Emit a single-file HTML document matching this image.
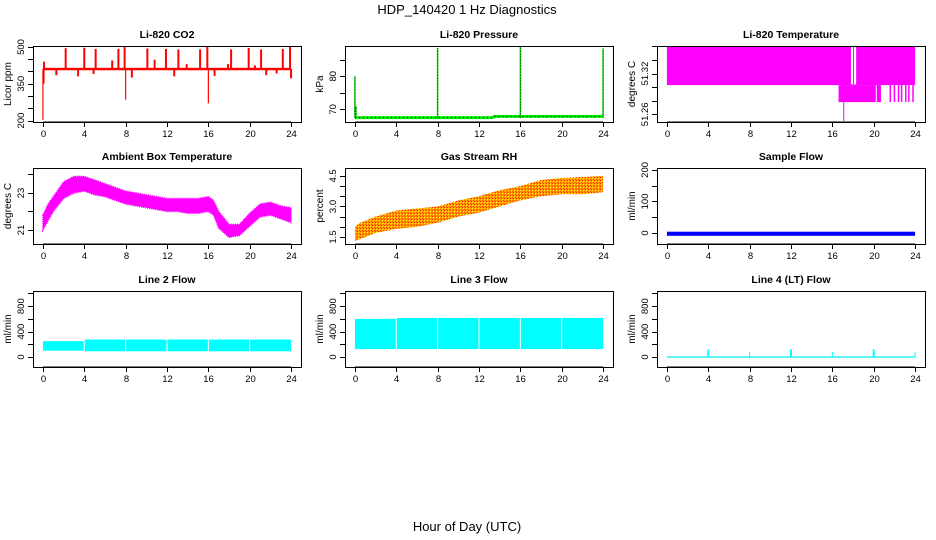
<!DOCTYPE html>
<html><head><meta charset="utf-8">
<style>
html,body{margin:0;padding:0;background:#fff;}
svg{display:block;font-family:"Liberation Sans",Helvetica,Arial,sans-serif;}
</style></head>
<body>
<svg id="chart" width="936" height="540" viewBox="0 0 936 540">
<defs>
<pattern id="rhpat" width="3" height="3" patternUnits="userSpaceOnUse">
<rect width="3" height="3" fill="#ffa000"/><rect width="1" height="1" fill="#ff2000"/><rect x="1" y="1" width="1" height="1" fill="#ffee00"/><rect x="2" y="2" width="1" height="1" fill="#ff5000"/>
</pattern>
</defs>
<text x="467" y="14" font-size="13" text-anchor="middle">HDP_140420  1 Hz Diagnostics</text>
<text x="467" y="531" font-size="13" text-anchor="middle">Hour of Day (UTC)</text>
</svg>
<script>
// ---------- data ----------
const xTicks = [0,4,8,12,16,20,24];

// CO2
const co2Base = [405,415];
const co2UpHours = [2.2,4.0,5.1,7.3,7.9,10.1,11.9,13.1,15.2,15.9,18.2,19.9,21.1,23.2,23.9];
const co2UpVals  = [495,497,492,492,500,494,492,490,490,500,490,496,490,492,500];
const co2SmallHours = [0.1,6.7,10.8,13.9,17.9,20.5,1.3,3.4,4.9,8.6,12.7,16.6,21.6,22.6,24.0];
const co2SmallVals  = [440,445,448,430,430,425,385,380,390,375,380,382,385,392,372];
const co2DipHours = [0.0,0.1,8.0,16.0];
const co2DipVals  = [203,350,285,270];
const co2Ticks = [200,250,300,350,400,450,500];
const co2Labels = [200,350,500];

// Pressure
const presHours = [0,13.3,13.5,24];
const presVals  = [67.5,67.5,67.9,67.9];
const presSpikeHours = [0,0.1,8,16,24];
const presSpikeVals  = [80,71,88.5,89.1,88.4];
const presTicks = [70,75,80,85];
const presLabels = [70,80];

// Li-820 Temperature
const tmpUpper = [51.303,51.3605];
const tmpUpperGaps = [[17.8,18.0],[18.1,18.3]];
const tmpLowerStart = [16.6,20.3];
const tmpLowerEnd   = [20.2,20.7];
const tmpLowerVal = 51.278;
const tmpStripeHours = [21.6,22.0,22.4,22.7,23.1,23.4,23.8];
const tmpDipHour = 17.1, tmpDipVal = 51.25;
const tmpTicks = [51.26,51.28,51.30,51.32,51.34,51.36];
const tmpLabels = [51.26,51.32];

// Ambient Box Temperature
const ambHours = [0,0.5,1,2,3,4,5,6,7,8,9,10,11,12,13,14,15,16,16.5,17,18,19,20,21,22,23,24];
const ambHi = [21.8,22.4,22.8,23.6,23.9,23.9,23.7,23.5,23.3,23.1,23.0,22.9,22.8,22.7,22.7,22.7,22.7,22.8,22.6,22.0,21.3,21.3,21.9,22.4,22.5,22.3,22.2];
const ambLo = [21.0,21.5,22.0,22.7,23.0,23.1,22.9,22.8,22.6,22.4,22.3,22.2,22.1,22.0,22.0,21.9,21.9,22.0,21.8,21.1,20.6,20.7,21.2,21.7,21.8,21.6,21.4];
const ambTicks = [21,22,23,24];
const ambLabels = [21,23];

// Gas Stream RH
const rhHours = [0,0.5,1,2,4,6,8,10,12,14,16,18,20,22,24];
const rhHi = [2.0,2.2,2.3,2.5,2.8,2.9,3.0,3.3,3.5,3.8,4.0,4.3,4.4,4.45,4.5];
const rhLo = [1.3,1.4,1.5,1.7,1.9,2.0,2.2,2.5,2.7,3.0,3.3,3.5,3.6,3.6,3.7];
const rhTicks = [1.5,2.0,2.5,3.0,3.5,4.0,4.5];
const rhLabels = [1.5,3.0,4.5];

// Sample Flow
const sfBand = [-9,4];
const sfTicks = [0,50,100,150,200];
const sfLabels = [0,100,200];

// Line 2 / 3 flows
const flowSegStart = [0,4.05,8.05,12.05,16.05,20.05];
const flowSegEnd   = [3.95,7.95,11.95,15.95,19.95,24];
const l2Hi = [250,275,275,275,275,275];
const l2Lo = [100,90,90,90,90,90];
const l3Hi = [600,615,615,615,615,615];
const l3Lo = [125,125,125,125,125,125];
const l4SpikeHours = [4,8,12,16,20,24];
const l4SpikeVals  = [120,80,120,80,120,80];
const flowTicks = [0,200,400,600,800,1000];
const flowLabels = [0,400,800];

// ---------- helpers ----------
const NS = 'http://www.w3.org/2000/svg';
const svg = document.getElementById('chart');
function mk(tag, attrs, parent){
  const e = document.createElementNS(NS, tag);
  for (const k in attrs) e.setAttribute(k, attrs[k]);
  (parent||svg).appendChild(e);
  return e;
}
const colX = [33,345,657], rowY = [46,168,291], PW = 268, PH = 76;
const XMIN = -0.96, XMAX = 24.96;

function makePanel(col,row,ylim,title,ytitle,yticks,ylabels,name,dec){
  const g = mk('g',{});
  
  
  const x0 = colX[col], y0 = rowY[row];
  const p = {g, x0, y0,
    sx: h => x0 + (h - XMIN)/(XMAX - XMIN)*PW,
    sy: v => y0 + PH - (v - ylim[0])/(ylim[1]-ylim[0])*PH};
  const clipId = 'clip'+col+row;
  const cp = mk('clipPath',{id:clipId}, g);
  mk('rect',{x:x0,y:y0,width:PW,height:PH}, cp);
  p.plot = mk('g',{'clip-path':'url(#'+clipId+')'}, g);
  
  
  const t = mk('text',{x:x0+PW/2,y:y0-8,'font-size':10.5,'font-weight':'bold','text-anchor':'middle'}, g);
  t.textContent = title;
  
  
  const yt = mk('text',{x:0,y:0,'font-size':10,'text-anchor':'middle',transform:`translate(${x0-22},${y0+PH/2}) rotate(-90)`}, g);
  yt.textContent = ytitle;
  
  
  const xa = mk('g',{}, g);
  
  
  mk('line',{x1:p.sx(0),x2:p.sx(24),y1:y0+PH,y2:y0+PH,stroke:'#000'}, xa);
  xTicks.forEach(h=>{
    const x = Math.round(p.sx(h))+0.5;
    mk('line',{x1:x,x2:x,y1:y0+PH,y2:y0+PH+5,stroke:'#000'}, xa);
    const lt = mk('text',{x:x,y:y0+PH+15,'font-size':9.5,'text-anchor':'middle'}, xa);
    lt.textContent = h;
    
    
  });
  const ya = mk('g',{}, g);
  
  
  yticks.forEach(v=>{
    const y = Math.round(p.sy(v))+0.5;
    mk('line',{x1:x0-5,x2:x0,y1:y,y2:y,stroke:'#000'}, ya);
  });
  ylabels.forEach(v=>{
    const y = p.sy(v);
    const lt = mk('text',{x:0,y:0,'font-size':9.5,'text-anchor':'middle',transform:`translate(${x0-9},${y}) rotate(-90)`}, ya);
    lt.textContent = v.toFixed(dec||0);
    
    
  });
  const box = mk('rect',{x:x0+0.5,y:y0+0.5,width:PW,height:PH,fill:'none',stroke:'#000'}, g);
  
  
  return p;
}
function vline(p,h,v1,v2,color,w,nm){
  const l = mk('line',{x1:p.sx(h),x2:p.sx(h),y1:p.sy(v1),y2:p.sy(v2),stroke:color,'stroke-width':w||1}, p.plot);
  
  
  return l;
}
function rectV(p,h1,h2,v1,v2,fill,nm){
  const r = mk('rect',{x:p.sx(h1),y:p.sy(v2),width:Math.max(p.sx(h2)-p.sx(h1),1),height:Math.max(p.sy(v1)-p.sy(v2),1),fill:fill}, p.plot);
  
  
  return r;
}
function bandPoly(p,hours,hi,lo,fill,nm,stroke){
  const pts = hours.map((h,i)=>p.sx(h)+','+p.sy(hi[i])).concat(hours.slice().reverse().map((h,j)=>{const i=hours.length-1-j;return p.sx(h)+','+p.sy(lo[i]);}));
  const pg = mk('polygon',{points:pts.join(' '),fill:fill}, p.plot);
  if (stroke){pg.setAttribute('stroke',stroke);pg.setAttribute('stroke-width','1.5');pg.setAttribute('stroke-dasharray','1 1');}
  
  
}

// CO2
const p1 = makePanel(0,0,[194,504],'Li-820 CO2','Licor ppm',co2Ticks,co2Labels,'co2-panel');
rectV(p1,0,24,co2Base[0],co2Base[1],'#ff0000','co2-baseline');
co2UpHours.forEach((h,i)=>vline(p1,h,410,co2UpVals[i],'#ff0000',2,'co2-spike'));
co2SmallHours.forEach((h,i)=>vline(p1,h,410,co2SmallVals[i],'#ff0000',2,'co2-small-spike'));
co2DipHours.forEach((h,i)=>vline(p1,h,410,co2DipVals[i],'#ff0000',1.2,'co2-dip'));

// Pressure
const p2 = makePanel(1,0,[66.2,89.1],'Li-820 Pressure','kPa',presTicks,presLabels,'pressure-panel');
const pl = mk('polyline',{points:presHours.map((h,i)=>p2.sx(h)+','+p2.sy(presVals[i])).join(' '),fill:'none',stroke:'#00ee00','stroke-width':3}, p2.plot);


const pl2 = mk('polyline',{points:presHours.map((h,i)=>p2.sx(h)+','+p2.sy(presVals[i])).join(' '),fill:'none',stroke:'#000','stroke-width':1,'stroke-dasharray':'1 3'}, p2.plot);


presSpikeHours.forEach((h,i)=>{vline(p2,h,67.5,presSpikeVals[i],'#00dd00',1.5,'pressure-spike');});
presSpikeHours.forEach((h,i)=>{const l=vline(p2,h,67.5,presSpikeVals[i],'#000',0.8,'pressure-spike-dots');l.setAttribute('stroke-dasharray','1 2');});

// Li-820 Temperature
const p3 = makePanel(2,0,[51.2487,51.3605],'Li-820 Temperature','degrees C',tmpTicks,tmpLabels,'li820-temp-panel',2);
rectV(p3,0,24,tmpUpper[0],tmpUpper[1],'#ff00ff','temp-upper-band');
tmpUpperGaps.forEach(g=>rectV(p3,g[0],g[1],tmpUpper[0]+0.001,tmpUpper[1],'#ffffff','temp-gap'));
tmpLowerStart.forEach((s,i)=>rectV(p3,s,tmpLowerEnd[i],tmpLowerVal,tmpUpper[0],'#ff00ff','temp-lower-band'));
tmpStripeHours.forEach(h=>vline(p3,h,tmpLowerVal,tmpUpper[0],'#ff00ff',1.5,'temp-stripe'));
vline(p3,tmpDipHour,tmpLowerVal,tmpDipVal,'#ff00ff',1,'temp-dip');

// Ambient
const p4 = makePanel(0,1,[20.24,24.35],'Ambient Box Temperature','degrees C',ambTicks,ambLabels,'ambient-temp-panel');
bandPoly(p4,ambHours,ambHi,ambLo,'#ff00ff','ambient-band','#ff00ff');

// RH
const p5 = makePanel(1,1,[1.156,4.89],'Gas Stream RH','percent',rhTicks,rhLabels,'rh-panel',1);
bandPoly(p5,rhHours,rhHi,rhLo,'url(#rhpat)','rh-band');

// Sample Flow
const p6 = makePanel(2,1,[-35,206],'Sample Flow','ml/min',sfTicks,sfLabels,'sample-flow-panel');
rectV(p6,0,24,sfBand[0],sfBand[1],'#0000ff','sample-flow-band');

// Line 2
const p7 = makePanel(0,2,[-157,1039],'Line 2 Flow','ml/min',flowTicks,flowLabels,'line2-flow-panel');
flowSegStart.forEach((s,i)=>rectV(p7,s,flowSegEnd[i],l2Lo[i],l2Hi[i],'#00ffff','line2-segment'));

// Line 3
const p8 = makePanel(1,2,[-157,1039],'Line 3 Flow','ml/min',flowTicks,flowLabels,'line3-flow-panel');
flowSegStart.forEach((s,i)=>rectV(p8,s,flowSegEnd[i],l3Lo[i],l3Hi[i],'#00ffff','line3-segment'));

// Line 4
const p9 = makePanel(2,2,[-157,1039],'Line 4 (LT) Flow','ml/min',flowTicks,flowLabels,'line4-flow-panel');
const bl = mk('line',{x1:p9.sx(0),x2:p9.sx(24),y1:p9.sy(0),y2:p9.sy(0),stroke:'#00eeee','stroke-width':1.2}, p9.plot);


l4SpikeHours.forEach((h,i)=>vline(p9,h,0,l4SpikeVals[i],'#00ffff',l4SpikeVals[i]>100?2:1,'line4-spike'));
</script>
</body></html>
